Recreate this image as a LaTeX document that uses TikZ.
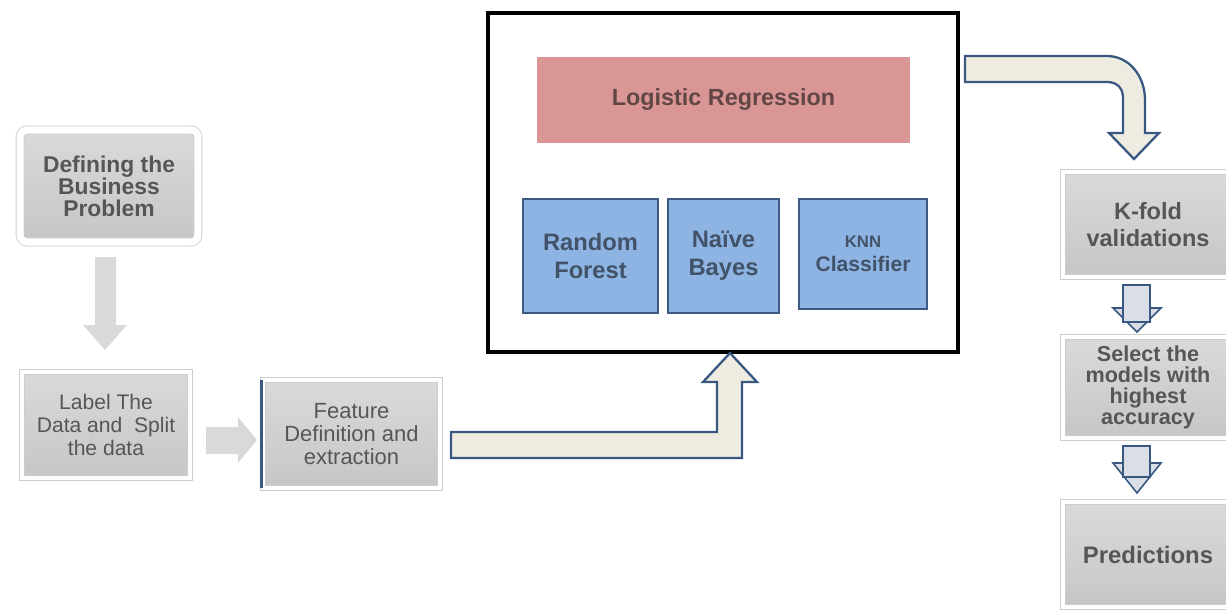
\documentclass[tikz,border=0pt]{standalone}
\usepackage{fontspec}
\setmainfont{Liberation Sans}
\usetikzlibrary{shadows}

\definecolor{boxtop}{RGB}{218,218,218}
\definecolor{boxbot}{RGB}{198,198,198}
\definecolor{textgray}{RGB}{86,86,86}
\definecolor{rimgray}{RGB}{205,205,205}
\definecolor{arrowgray}{RGB}{217,217,217}
\definecolor{cream}{RGB}{238,236,225}
\definecolor{arrowblue}{RGB}{56,88,130}
\definecolor{modelblue}{RGB}{141,180,226}
\definecolor{modelline}{RGB}{60,90,130}
\definecolor{modeltext}{RGB}{66,82,104}
\definecolor{lrpink}{RGB}{217,150,148}
\definecolor{lrtext}{RGB}{98,70,70}
\definecolor{smallfill}{RGB}{218,222,230}

\begin{document}
\begin{tikzpicture}
[%%%%%%%%%%%%%%%%%%%%%%%%%%%%%%
x=0.02cm,y=-0.02cm,
graybox/.style={rectangle,top color=boxtop,bottom color=boxbot,draw=rimgray,double=white,
  double distance=2.5pt,line width=0.5pt,
  drop shadow={shadow xshift=0.6pt,shadow yshift=-1pt,opacity=0.3},
  text=textgray,align=center,inner sep=0pt},
modelbox/.style={rectangle,fill=modelblue,draw=modelline,line width=0.8pt,
  text=modeltext,align=center,inner sep=0pt},
grayarrow/.style={fill=arrowgray},
outarrow/.style={fill=cream,draw=arrowblue,line width=1.3pt,line join=miter},
smallarrow/.style={fill=smallfill,draw=arrowblue,line width=0.9pt,line join=miter},
]%%%%%%%%%%%%%%%%%%%%%%%%%%%%%%

\useasboundingbox (0,0) rectangle (1226,611);
\clip (0,0) rectangle (1226,611);

% left column
\node[graybox,rounded corners=4pt,double distance=4pt,minimum width=3.56cm,minimum height=2.24cm,
  font={\fontsize{13}{12.5}\selectfont\bfseries}] (def) at (109,186) {Defining the\\Business\\Problem};
\node[graybox,minimum width=3.36cm,minimum height=2.12cm,
  font={\fontsize{12}{13}\selectfont}] (lab) at (106,425) {Label The\\Data and~ Split\\the data};
\node[graybox,minimum width=3.54cm,minimum height=2.16cm,
  font={\fontsize{12.5}{13}\selectfont}] (feat) at (351.5,434) {Feature\\Definition and\\extraction};
\draw[arrowblue,line width=1.3pt] ([xshift=-0.02cm]feat.north west) -- ([xshift=-0.02cm]feat.south west);

\fill[grayarrow] (95,257) -- (116,257) -- (116,325) -- (127,325) -- (105,350) -- (83,325) -- (95,325) -- cycle;
\fill[grayarrow] (206,427) -- (238,427) -- (238,417) -- (257,440) -- (238,463) -- (238,454) -- (206,454) -- cycle;

% models
\node[rectangle,draw=black,line width=1.8pt,minimum width=9.4cm,minimum height=6.78cm] (big) at (723,182.5) {};
\node[rectangle,fill=lrpink,text=lrtext,minimum width=7.46cm,minimum height=1.72cm,
  font={\fontsize{13.3}{15}\selectfont\bfseries}] (lr) at (723.5,100) {Logistic Regression};
\node[modelbox,minimum width=2.7cm,minimum height=2.28cm,
  font={\fontsize{13.5}{16}\selectfont\bfseries}] (rf) at (590.5,256) {Random\\Forest};
\node[modelbox,minimum width=2.22cm,minimum height=2.28cm,
  font={\fontsize{13.5}{16}\selectfont\bfseries}] (nb) at (723.5,256) {Naïve\\Bayes};
\node[modelbox,minimum width=2.56cm,minimum height=2.2cm,
  font={\fontsize{12}{14}\selectfont\bfseries}] (knn) at (863,254) {{\fontsize{9.5}{14}\selectfont KNN}\\Classifier};

\draw[outarrow] (451,432) -- (717,432) -- (717,382) -- (703,382) -- (730,353) -- (757,382)
  -- (742,382) -- (742,458) -- (451,458) -- cycle;
\draw[outarrow] (965,56) -- (1107,56) .. controls (1129,56) and (1145,76) .. (1145,100) -- (1145,133)
  -- (1159,133) -- (1134,159) -- (1109,133) -- (1123,133) -- (1123,98)
  .. controls (1123,88) and (1117,82) .. (1107,82) -- (965,82) -- cycle;

% right column
\node[graybox,minimum width=3.4cm,minimum height=2.1cm,
  font={\fontsize{13.4}{15}\selectfont\bfseries}] (kf) at (1148,224.5) {K-fold\\validations};
\node[graybox,minimum width=3.4cm,minimum height=2.02cm,
  font={\fontsize{12.3}{12}\selectfont\bfseries}] (sel) at (1148,387.5) {Select the\\models with\\highest\\accuracy};
\node[graybox,minimum width=3.4cm,minimum height=2.1cm,
  font={\fontsize{13.6}{15}\selectfont\bfseries}] (pred) at (1148,554.5) {Predictions};

\foreach \ya/\yb/\yc in {285/308/332,446/463/493}{
\draw[smallarrow] (1113,\yb) -- (1161,\yb) -- (1137,\yc) -- cycle;
\draw[smallarrow] (1123,\ya) rectangle (1150,\yb+14);
}
\end{tikzpicture}
\end{document}
